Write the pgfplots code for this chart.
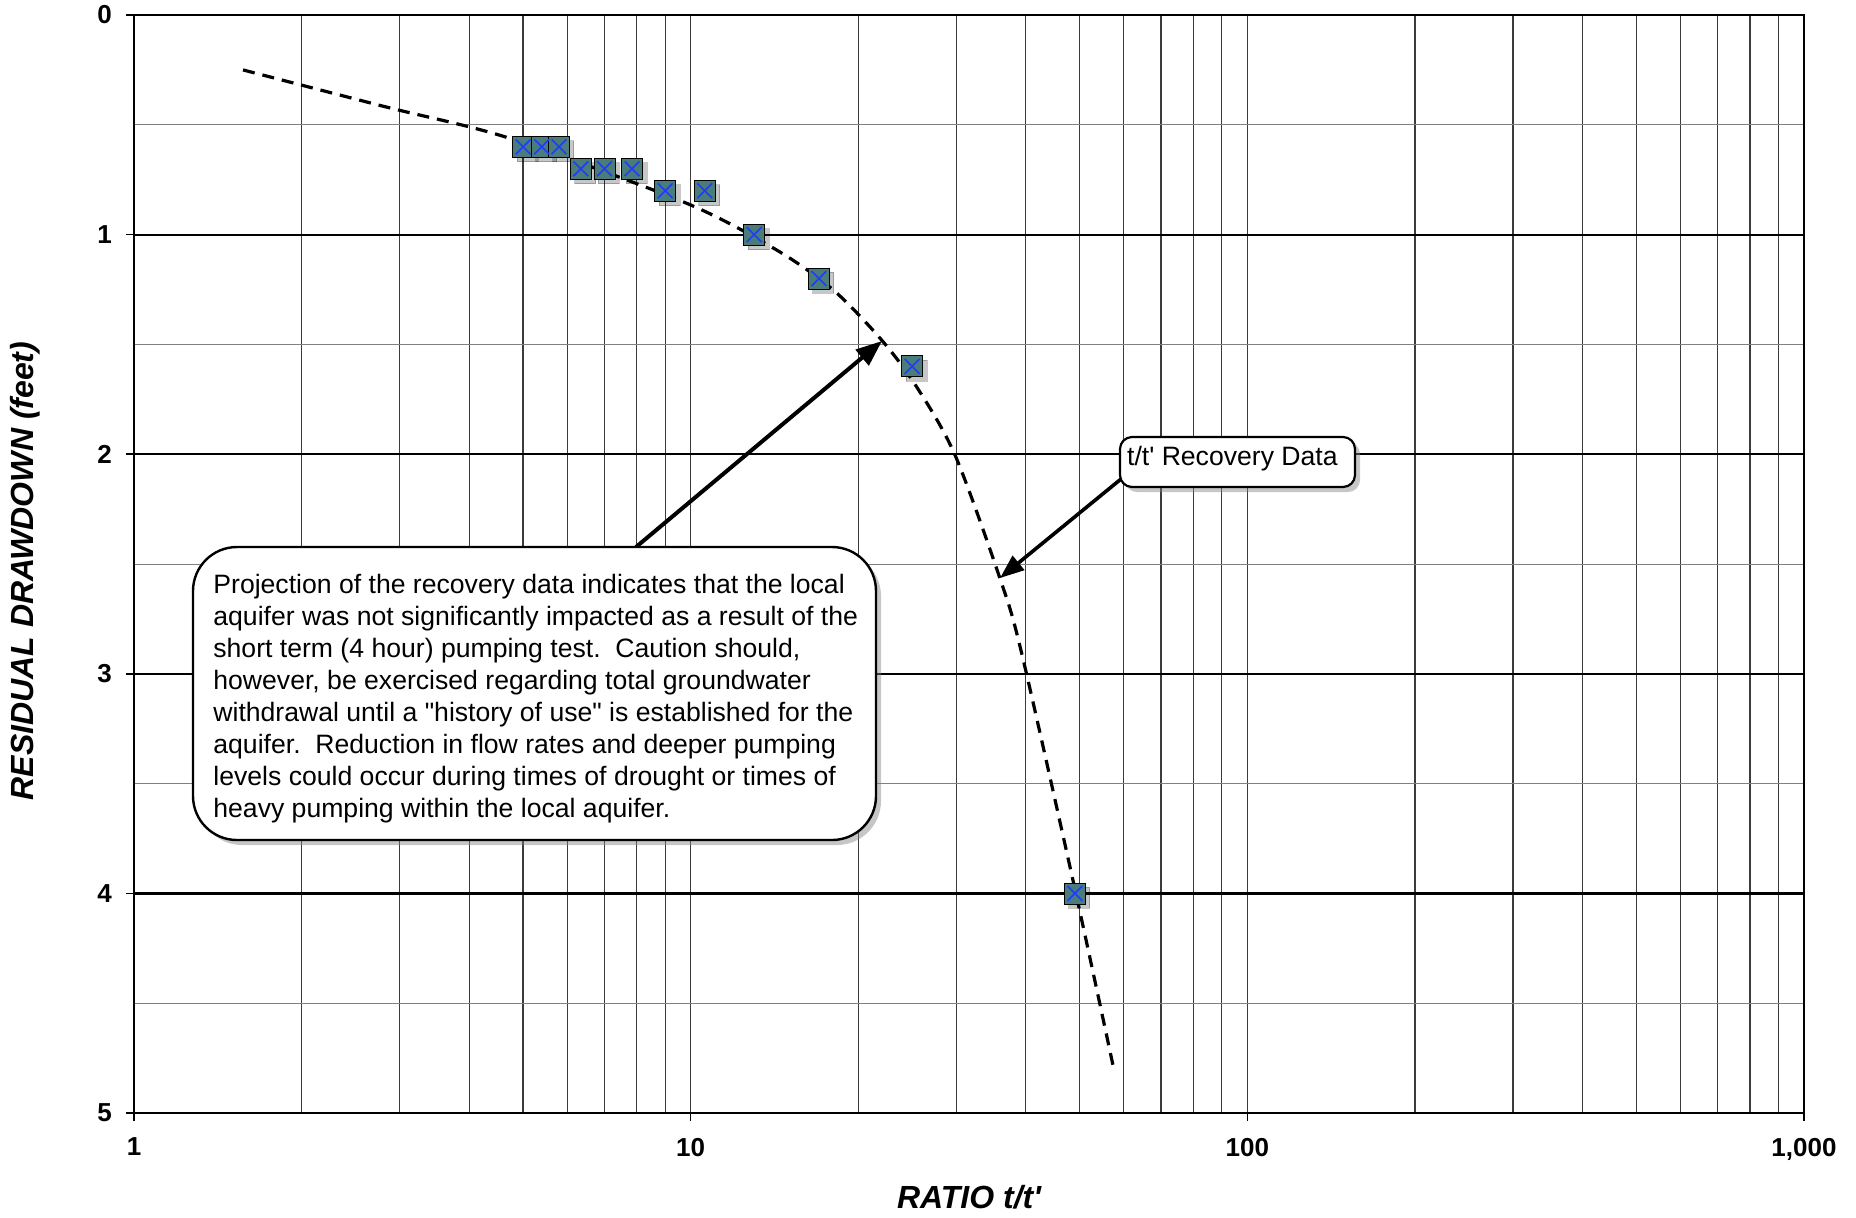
\documentclass[border=0pt]{standalone}
\usepackage{pgfplots}
\usepackage{pgfplotstable}
\pgfplotsset{compat=1.18}
\usepackage{fontspec}
\setmainfont{Liberation Sans}
\usetikzlibrary{shadows,arrows.meta}

\definecolor{markteal}{RGB}{74,124,124}
\definecolor{markblue}{RGB}{30,60,255}
\definecolor{gridgray}{RGB}{60,60,60}

% recovery data, t/t' vs residual drawdown
\pgfplotstableread{
ratio drawdown
5.0   0.6
5.4   0.6
5.8   0.6
6.35  0.7
7.0   0.7
7.85  0.7
9.0   0.8
10.6  0.8
13.0  1.0
17.0  1.2
25.0  1.6
49.0  4.0
}\recovery

\begin{document}
\begin{tikzpicture}
% page frame: 1 px of the reference = 0.5pt
\useasboundingbox (0,0) rectangle (928pt,-608.5pt);

\begin{axis}[
    at={(67pt,-556.5pt)}, anchor=south west,
    width=835pt, height=549pt, scale only axis,
    xmode=log,
    xmin=1, xmax=1000,
    ymin=0, ymax=5, y dir=reverse,
    xtick={1,10,100,1000},
    xticklabels={1,10,100,{1,000}},
    minor xtick={2,3,4,5,6,7,8,9,20,30,40,50,60,70,80,90,200,300,400,500,600,700,800,900},
    ytick={0,1,2,3,4,5},
    yticklabels={0,1,2,3,4,5},
    minor ytick={0.5,1.5,2.5,3.5,4.5},
    grid=both,
    major x grid style={gridgray, line width=0.6pt},
    minor x grid style={gridgray, line width=0.6pt},
    major y grid style={black, line width=1.1pt},
    minor y grid style={gray, line width=0.5pt},
    axis line style={black, line width=1.3pt},
    tick align=outside,
    tick pos=left,
    major tick length=4pt, minor tick length=0pt,
    major tick style={black, line width=0.8pt},
    ticklabel style={font=\bfseries\fontsize{13}{15}\selectfont},
    xticklabel style={yshift=-5pt},
    yticklabel style={xshift=-3.5pt},
    clip=false,
]

% fitted trend through the recovery data
\addplot[black, line width=1.6pt, dash pattern=on 6pt off 4pt, smooth] coordinates {
    (1.57,0.25) (2.82,0.417) (4.74,0.562) (9.83,0.857) (14.27,1.07)
    (18.04,1.252) (22.03,1.48) (25.46,1.693) (29.85,2.004) (35.94,2.565)
    (39.33,2.907) (49.2,4.0) (57.44,4.789)
};

% marker shadow
\addplot[only marks, mark=square*, mark size=5.25pt,
    mark options={draw=none, fill=black, opacity=0.22, xshift=2.2pt, yshift=-2.2pt}]
    table[x=ratio, y=drawdown] {\recovery};
\addplot[only marks, mark=square*, mark size=5.25pt,
    mark options={draw=none, fill=markteal}]
    table[x=ratio, y=drawdown] {\recovery};
\addplot[only marks, mark=x, mark size=5.25pt,
    mark options={draw=markblue, line width=0.8pt}]
    table[x=ratio, y=drawdown] {\recovery};

\end{axis}

\begin{scope}[x=0.5pt, y=-0.5pt]
% arrows
\draw[line width=2pt, -{Triangle[length=13pt,width=10pt]}] (636,547) -- (882,341);
\draw[line width=1.8pt, -{Triangle[length=12pt,width=9pt]}] (1121,479) -- (1000,578);

% big callout
\draw[line width=1.2pt, fill=white, rounded corners=22pt,
    drop shadow={shadow xshift=2.5pt, shadow yshift=-2.5pt, opacity=0.45}]
    (193,547) rectangle (876,840);
\node[anchor=north west, inner sep=0pt, align=left, font=\fontsize{13.3}{16}\selectfont]
    at (213,574) {Projection of the recovery data indicates that the local\\
aquifer was not significantly impacted as a result of the\\
short term (4 hour) pumping test.\ \ Caution should,\\
however, be exercised regarding total groundwater\\
withdrawal until a \textquotedbl history of use\textquotedbl\ is established for the\\
aquifer.\ \ Reduction in flow rates and deeper pumping\\
levels could occur during times of drought or times of\\
heavy pumping within the local aquifer.};

% small callout
\draw[line width=1.1pt, fill=white, rounded corners=6pt,
    drop shadow={shadow xshift=2.5pt, shadow yshift=-2.5pt, opacity=0.45}]
    (1120,437) rectangle (1355,487);
\node[anchor=base west, inner sep=0pt, font=\fontsize{13.3}{15}\selectfont]
    at (1126.7,465) {t/t\textquotesingle\ Recovery Data};

% axis titles
\node[anchor=base, font=\bfseries\itshape\fontsize{16}{19}\selectfont]
    at (969,1208) {RATIO t/t\textquotesingle};
\node[rotate=90, font=\bfseries\itshape\fontsize{16}{19}\selectfont]
    at (25,571) {RESIDUAL DRAWDOWN (feet)};
\end{scope}
\end{tikzpicture}
\end{document}
